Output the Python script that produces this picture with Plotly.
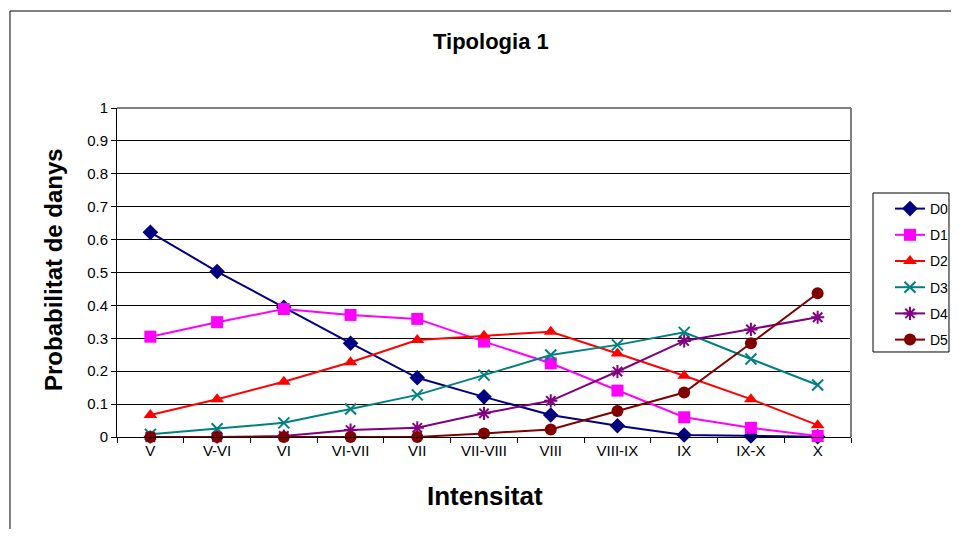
import plotly.graph_objects as go

categories = ["V", "V-VI", "VI", "VI-VII", "VII", "VII-VIII", "VIII", "VIII-IX", "IX", "IX-X", "X"]
d0 = [0.622, 0.503, 0.394, 0.285, 0.180, 0.122, 0.067, 0.034, 0.006, 0.003, 0.001]
d1 = [0.305, 0.349, 0.389, 0.371, 0.359, 0.290, 0.224, 0.141, 0.060, 0.028, 0.003]
d2 = [0.067, 0.115, 0.168, 0.227, 0.295, 0.308, 0.320, 0.254, 0.186, 0.115, 0.036]
d3 = [0.008, 0.025, 0.043, 0.085, 0.128, 0.188, 0.249, 0.280, 0.318, 0.237, 0.158]
d4 = [0.000, 0.000, 0.003, 0.021, 0.028, 0.072, 0.110, 0.199, 0.292, 0.327, 0.364]
d5 = [0.000, 0.000, 0.000, 0.000, 0.000, 0.011, 0.023, 0.079, 0.135, 0.285, 0.437]
names = ["D0", "D1", "D2", "D3", "D4", "D5"]
y_ticks = [0, 0.1, 0.2, 0.3, 0.4, 0.5, 0.6, 0.7, 0.8, 0.9, 1]
y_tick_labels = ["0", "0.1", "0.2", "0.3", "0.4", "0.5", "0.6", "0.7", "0.8", "0.9", "1"]

series = [d0, d1, d2, d3, d4, d5]
colors = ["#000080", "#FF00FF", "#FF0000", "#008080", "#800080", "#800000"]
symbols = ["diamond", "square", "triangle-up", "x-thin-open", "asterisk-open", "circle"]
sizes = [12, 12, 12, 11, 11, 12]

fig = go.Figure()
for i, (nm, vals) in enumerate(zip(names, series)):
    open_sym = symbols[i].endswith("open")
    fig.add_trace(go.Scatter(
        x=categories, y=vals, name=nm, mode="lines+markers",
        legendgroup=nm,
        line=dict(color=colors[i], width=2),
        marker=dict(symbol=symbols[i], size=sizes[i], color=colors[i],
                    line=dict(color=colors[i], width=2 if open_sym else 0)),
        cliponaxis=False,
    ))

fig.update_layout(
    width=943, height=521,
    margin=dict(l=109, r=100, t=100, b=92),
    paper_bgcolor="white", plot_bgcolor="white",
    font=dict(family="Arial, Liberation Sans, sans-serif", size=15, color="black"),
    showlegend=True,
    legend=dict(
        xref="container", yref="container",
        x=0.9353, y=0.6449, xanchor="left", yanchor="top",
        borderwidth=0, bgcolor="rgba(0,0,0,0)",
        font=dict(size=14), tracegroupgap=5, traceorder="grouped",
        itemwidth=30,
    ),
    xaxis=dict(
        type="category", range=[-0.5, 10.5],
        showgrid=False, showline=True, linecolor="black", linewidth=1,
        ticks="outside", tickson="boundaries", ticklen=5, tickcolor="black",
        mirror=False, zeroline=False,
    ),
    yaxis=dict(
        range=[0, 1], tickvals=y_ticks, ticktext=y_tick_labels,
        showgrid=True, gridcolor="black", gridwidth=1,
        showline=True, linecolor="black", linewidth=1,
        ticks="outside", ticklen=5, tickcolor="black", zeroline=False,
    ),
    shapes=[
        dict(type="line", xref="paper", yref="paper", x0=-0.1458, x1=1.3, y0=1.2948, y1=1.2948,
             line=dict(color="black", width=1)),
        dict(type="line", xref="paper", yref="paper", x0=-0.1458, x1=-0.1458, y0=-0.5, y1=1.2948,
             line=dict(color="black", width=1)),
        dict(type="line", xref="paper", yref="paper", x0=0, x1=1, y0=1, y1=1,
             line=dict(color="#808080", width=2)),
        dict(type="line", xref="paper", yref="paper", x0=1, x1=1, y0=0, y1=1,
             line=dict(color="#808080", width=2)),
        dict(type="rect", xref="paper", yref="paper", x0=1.03, x1=1.1335, y0=0.2584, y1=0.7416,
             line=dict(color="black", width=1), fillcolor="white", layer="below"),
    ],
    annotations=[
        dict(text="<b>Tipologia 1</b>", xref="paper", yref="paper", x=0.5095, y=1.2036,
             xanchor="center", yanchor="middle", showarrow=False, font=dict(size=22)),
        dict(text="<b>Probabilitat de danys</b>", xref="paper", yref="paper", x=-0.0872, y=0.5106,
             xanchor="center", yanchor="middle", showarrow=False, textangle=-90, font=dict(size=24)),
        dict(text="<b>Intensitat</b>", xref="paper", yref="paper", x=0.5007, y=-0.1793,
             xanchor="center", yanchor="middle", showarrow=False, font=dict(size=26)),
    ],
)

fig.write_html("out.html")
